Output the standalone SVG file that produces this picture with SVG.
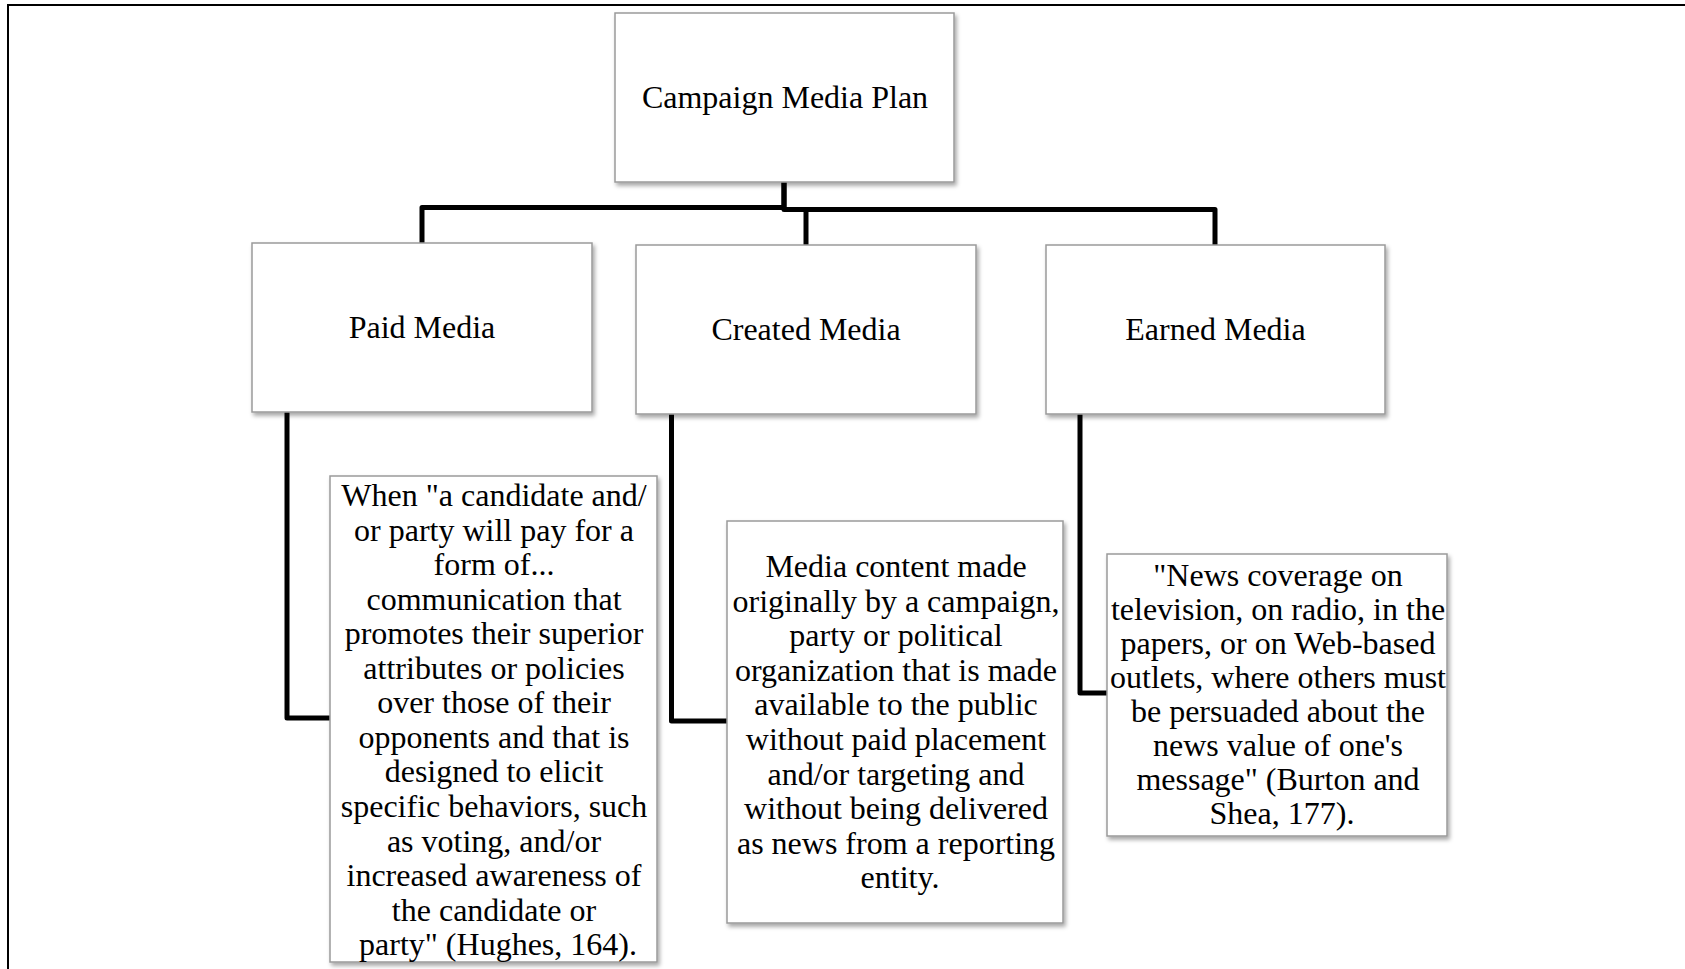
<svg xmlns="http://www.w3.org/2000/svg" width="1685" height="969" viewBox="0 0 1685 969">
  <defs>
    <filter id="shadow" x="-10%" y="-10%" width="125%" height="125%">
      <feDropShadow dx="2" dy="3" stdDeviation="2" flood-color="#000" flood-opacity="0.35"/>
    </filter>
  </defs>
  <style>
    .box { fill: #ffffff; stroke: #9a9a9a; stroke-width: 1.5; filter: url(#shadow); }
    .title { font-family: "Liberation Serif", "Times New Roman", serif; font-size: 32px; fill: #000; text-anchor: middle; }
    .desc { font-family: "Liberation Serif", "Times New Roman", serif; font-size: 32px; fill: #000; text-anchor: middle; }
    .wire { fill: none; stroke: #000; stroke-width: 5; stroke-linejoin: round; stroke-linecap: butt; }
    .frame { fill: none; stroke: #000; stroke-width: 2; }
  </style>

  <rect width="1685" height="969" fill="#ffffff"/>
  <path class="frame" d="M8,969 V5 H1685"/>

  <g id="connectors">
    <path class="wire" d="M422,243 V207.5 H784 V182"/>
    <path class="wire" d="M784,182 V209.5 H1215 V245"/>
    <path class="wire" d="M806,209.5 V245"/>
    <path class="wire" d="M287,412 V718 H330"/>
    <path class="wire" d="M671.5,414 V721 H727"/>
    <path class="wire" d="M1080,414 V693 H1107"/>
  </g>

  <g id="campaign-media-plan">
    <rect class="box" x="615" y="13" width="339" height="169"/>
    <text class="title" x="785" y="108">Campaign Media Plan</text>
  </g>

  <g id="paid-media">
    <rect class="box" x="252" y="243" width="340" height="169"/>
    <text class="title" x="422" y="338">Paid Media</text>
  </g>

  <g id="created-media">
    <rect class="box" x="636" y="245" width="340" height="169"/>
    <text class="title" x="806" y="340">Created Media</text>
  </g>

  <g id="earned-media">
    <rect class="box" x="1046" y="245" width="339" height="169"/>
    <text class="title" x="1215.5" y="340">Earned Media</text>
  </g>

  <g id="paid-media-definition">
    <rect class="box" x="330" y="476" width="327" height="486"/>
    <text class="desc">
      <tspan x="498" y="506">When "a candidate and/</tspan>
      <tspan x="498" y="540.55">or party will pay for a</tspan>
      <tspan x="498" y="575.1">form of...</tspan>
      <tspan x="498" y="609.65">communication that</tspan>
      <tspan x="498" y="644.2">promotes their superior</tspan>
      <tspan x="498" y="678.75">attributes or policies</tspan>
      <tspan x="498" y="713.3">over those of their</tspan>
      <tspan x="498" y="747.85">opponents and that is</tspan>
      <tspan x="498" y="782.4">designed to elicit</tspan>
      <tspan x="498" y="816.95">specific behaviors, such</tspan>
      <tspan x="498" y="851.5">as voting, and/or</tspan>
      <tspan x="498" y="886.05">increased awareness of</tspan>
      <tspan x="498" y="920.6">the candidate or</tspan>
      <tspan x="498" y="955.15">party" (Hughes, 164).</tspan>
    </text>
  </g>

  <g id="created-media-definition">
    <rect class="box" x="727" y="521" width="336" height="402"/>
    <text class="desc">
      <tspan x="900" y="577">Media content made</tspan>
      <tspan x="900" y="611.6">originally by a campaign,</tspan>
      <tspan x="900" y="646.2">party or political</tspan>
      <tspan x="900" y="680.8">organization that is made</tspan>
      <tspan x="900" y="715.4">available to the public</tspan>
      <tspan x="900" y="750">without paid placement</tspan>
      <tspan x="900" y="784.6">and/or targeting and</tspan>
      <tspan x="900" y="819.2">without being delivered</tspan>
      <tspan x="900" y="853.8">as news from a reporting</tspan>
      <tspan x="900" y="888.4">entity.</tspan>
    </text>
  </g>

  <g id="earned-media-definition">
    <rect class="box" x="1107" y="554" width="340" height="282"/>
    <text class="desc">
      <tspan x="1282" y="585.5">"News coverage on</tspan>
      <tspan x="1282" y="619.5">television, on radio, in the</tspan>
      <tspan x="1282" y="653.5">papers, or on Web-based</tspan>
      <tspan x="1282" y="687.5">outlets, where others must</tspan>
      <tspan x="1282" y="721.5">be persuaded about the</tspan>
      <tspan x="1282" y="755.5">news value of one's</tspan>
      <tspan x="1282" y="789.5">message" (Burton and</tspan>
      <tspan x="1282" y="823.5">Shea, 177).</tspan>
    </text>
  </g>
</svg>
